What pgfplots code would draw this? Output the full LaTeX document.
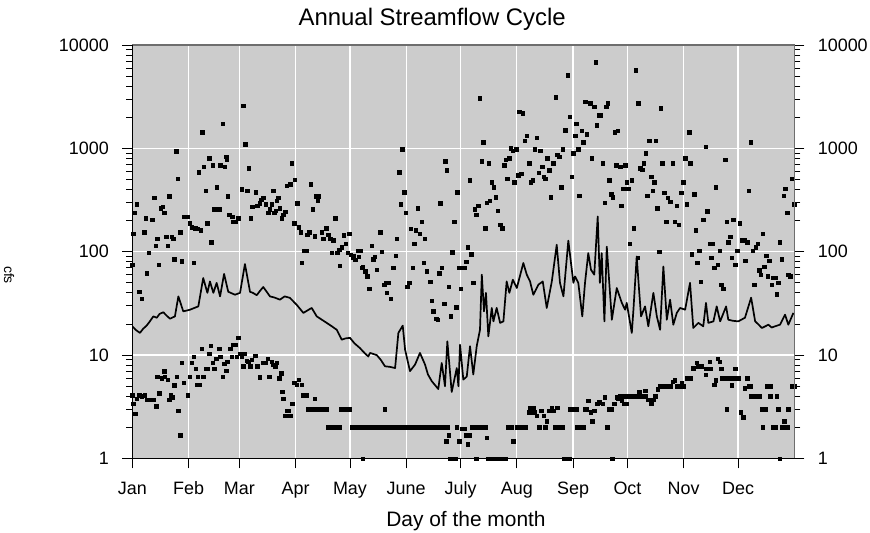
\documentclass[border=0pt]{standalone}
\usepackage{fontspec}
\setmainfont{Liberation Sans}
\usepackage{pgfplots}
\pgfplotsset{compat=1.18}
\definecolor{bgc}{RGB}{204,204,204}
\definecolor{framec}{RGB}{110,110,110}
\begin{document}
\begin{tikzpicture}[x=1bp,y=1bp]
\path[use as bounding box] (0,0) rectangle (870,533);
\begin{axis}[name=main,
  at={(132.3bp,74.5bp)}, anchor=south west,
  scale only axis, width=662bp, height=413.5bp,
  xmin=0, xmax=365, ymin=1, ymax=10000, ymode=log,
  ytick={1,10,100,1000,10000},
  yticklabels={1,10,100,1000,10000},
  minor ytick={2,3,4,5,6,7,8,9,20,30,40,50,60,70,80,90,200,300,400,500,600,700,800,900,2000,3000,4000,5000,6000,7000,8000,9000},
  tick align=outside,
  major tick length=10bp, minor tick length=6bp,
  tick style={black, line width=0.8bp},
  ticklabel style={font=\fontsize{18}{18}\selectfont},
  axis background/.style={fill=bgc},
  axis line style={draw=framec, line width=1.2bp},
  xtick={0,31,59,90,120,151,181,212,243,273,304,334},
  xticklabels={Jan,Feb,Mar,Apr,May,June,July,Aug,Sep,Oct,Nov,Dec},
  xtick pos=left, ytick pos=left,
  xmajorgrids, ymajorgrids,
  major grid style={white, line width=1.3bp},
  xticklabel style={anchor=base, yshift=-26.5bp},
  yticklabel style={anchor=east, xshift=-10bp},
  title={Annual Streamflow Cycle},
  title style={font=\fontsize{24}{24}\selectfont, at={(axis description cs:0.453,1)}, anchor=base, yshift=14bp},
  xlabel={Day of the month},
  xlabel style={font=\fontsize{21}{21}\selectfont, at={(axis description cs:0.504,0)}, anchor=base, yshift=-68bp},
]
% maximum daily flow
\addplot[only marks, mark=square*, mark size=1.7bp, mark options={draw=none, fill=black}] coordinates {
(0,75)(0.6,149)(1.1,237)(2.4,289)(3.7,41)(5.2,35)(6.5,155)(7.4,212)(7.9,62)(9.2,98)(11,204)(12,335)(12.9,114)(13.8,133)(14.7,75)(15.8,264)(16.8,274)(17.6,237)(18.6,139)(19.5,114)(20.4,345)(21.7,139)(22.6,133)(23.2,85)(24.3,940)(25,508)(26.3,155)(27.2,81)(28.7,219)(30.5,219)(31.8,189)(32.8,173)(34,78)(34.6,169)(36.1,166)(36.6,589)(37.7,161)(38.6,1435)(39.5,667)(40.5,388)(41.4,189)(42.3,804)(43.4,124)(44.3,688)(45.2,258)(46.5,422)(48,258)(48.4,688)(49.8,1740)(51,667)(51.7,834)(52.2,780)(52.6,345)(53.5,228)(55.1,219)(55.3,196)(57,196)(58.4,212)(60.3,403)(61.2,2590)(62.3,1097)(63.4,388)(64.2,644)(65.3,212)(66.2,274)(68,377)(68.9,280)(70.4,295)(71,318)(72.2,335)(73.7,289)(75,237)(75.9,258)(76.9,289)(77.6,388)(78.3,237)(79.1,249)(79.6,311)(80.5,335)(81.4,264)(82.4,212)(83.3,228)(84.2,245)(85.1,437)(87,451)(87.9,719)(89.2,189)(89.7,497)(91,295)(91.9,173)(92.9,155)(93.4,78)(94.7,102)(96.2,102)(96.5,146)(97.6,155)(98.5,451)(99.5,258)(100.4,141)(101.3,345)(102.2,311)(102.6,345)(104.4,155)(105.3,133)(106.8,169)(108.1,146)(109,133)(109.9,98)(110.8,129)(111.8,212)(113,98)(114,105)(114.5,73)(115.5,111)(116.7,144)(117.7,119)(118.8,98)(119.5,149)(120.4,94)(121.5,87)(122.2,91)(122.8,84)(124.6,102)(124.9,90)(125.6,102)(126.5,70)(127.1,72)(128.3,65)(129.6,58)(130.7,44)(132,114)(132.9,85)(133.8,90)(134.8,67)(136.6,155)(137.5,100)(138.8,48)(139.9,50.5)(140.3,40)(141.2,50.5)(142.5,35)(143.9,70)(145.2,91)(145.8,133)(147.1,589)(148,289)(148.9,982)(149.8,377)(150.9,237)(151.6,45.6)(152.7,50.5)(153.5,166)(154.6,70)(155.5,119)(156.4,161)(157.4,264)(158.3,149)(159.4,196)(160.5,78)(161.2,133)(162.3,65)(164.2,51)(165.1,33.6)(166,26.5)(167.5,22.5)(168.4,22)(169.1,62)(169.8,295)(170.6,70)(171.9,31.5)(172.6,752)(173.5,615)(174.6,45.6)(175.6,23.7)(176.4,99)(177.4,196)(178.5,29)(179.2,377)(180.3,70)(181.2,44)(183.1,70)(184,80.6)(184.9,111)(186,493)(186.8,95)(188,50)(188.8,258)(189.7,228)(190.6,278)(191.7,3055)(192.6,752)(193.5,1148)(194.5,169)(195.4,300)(196.5,719)(197.2,311)(198.3,471)(199.3,422)(200.2,337)(201.6,251)(202.9,182)(204,169)(205,688)(205.9,774)(206.8,511)(207.7,804)(208.7,1005)(209.8,946)(210.6,471)(211.6,982)(212.7,551)(213.4,2270)(214.5,571)(215.3,2190)(216.4,1181)(217.3,1320)(218.9,719)(219.8,471)(220.8,493)(222,982)(223,1271)(224.1,584)(225,946)(225.9,667)(226.8,531)(227.7,511)(228.8,804)(229.8,615)(230.7,337)(232.1,719)(233.5,3125)(234.3,871)(235.4,834)(236.4,422)(237.3,982)(238.6,1500)(240.2,5100)(241.2,2015)(242.1,531)(243,899)(244.1,1320)(244.8,1725)(245.9,982)(246.5,350)(247.8,1486)(248.7,1148)(249.6,2830)(250.6,1371)(252.4,2735)(253.3,804)(254.6,2535)(255.5,6800)(256.1,1675)(257,2095)(258.4,2095)(259.2,719)(260.3,300)(261.2,2535)(262.1,2735)(263,493)(264,361)(264.9,337)(266,1435)(266.9,688)(267.6,1486)(268.9,667)(269.6,278)(270.6,406)(271.7,688)(272.6,471)(273.5,406)(274.4,119)(275.5,493)(276.3,169)(277.6,5700)(278.7,87)(279,2735)(280.1,644)(281.2,620)(282,719)(282.9,899)(283.8,347)(284.9,1181)(286,531)(286.9,388)(287.7,471)(288.6,1181)(289.5,264)(290.6,100)(291.4,2445)(292.2,719)(293.3,374)(294.3,196)(295.2,335)(296.5,306)(298,719)(299.1,196)(300.2,278)(301.1,182)(302.6,374)(303.8,471)(304.8,804)(305.7,289)(307,1435)(307.7,719)(308.5,95)(309.7,361)(310.7,161)(311.5,78)(312.5,102)(313.4,51)(314.8,204)(316.3,1042)(317,247)(318.5,119)(319.1,87)(320,119)(320.9,70)(321.8,422)(322.8,75)(323.7,102)(324.6,48)(325.7,44)(326.8,774)(327.8,196)(328.6,124)(329.6,139)(330.5,87)(331.4,204)(332.3,75)(333.4,102)(334.9,189)(336,129)(337.3,129)(338,82)(339.1,124)(339.9,388)(341,1148)(341.9,102)(342.8,48)(343.8,111)(344.8,119)(345.7,66)(346.5,60)(347.6,149)(348.3,72)(349.4,91)(350.4,58)(351.2,82)(352.6,48)(353.1,56)(354.4,56)(355.3,39)(356.2,50)(357.1,124)(358.1,85)(359,347)(359.9,406)(361,237)(361.7,60)(362.7,58)(363.8,511)(364.9,289)
};
% minimum daily flow
\addplot[only marks, mark=square*, mark size=1.7bp, mark options={draw=none, fill=black}] coordinates {
(0,4.1)(0.6,3.4)(1.5,2.7)(2.4,3.8)(3.7,4.1)(5.2,4)(7,4.1)(7.9,3.7)(9.8,3.7)(11.6,3.7)(13.1,3.2)(13.8,6.2)(14.9,4.3)(16.2,6)(17.6,7)(18,6.2)(19.5,5.8)(20.4,3.7)(21.3,4.1)(22.3,3.9)(23.2,5.1)(24.5,6.2)(25.4,2.9)(26.3,1.68)(27.2,8.5)(28.5,5.4)(30.5,4.1)(31.8,6.2)(32.8,8.5)(34,9.6)(35,7.4)(35.5,5.15)(36.1,6.2)(36.9,5.15)(38.3,11.6)(39.1,6.2)(40.6,7.4)(41.6,7.4)(42.3,10.3)(43.2,12.4)(44.3,8.5)(45.2,7.4)(46.2,9.2)(48,11.6)(48.4,9.6)(49.8,6.2)(50.7,8.3)(51.7,7.1)(52.4,8.6)(53.9,11.6)(54.8,9.6)(55.7,12.6)(57,12.6)(57.6,9.7)(58.4,14.7)(59.4,10.3)(60.3,9.7)(61.2,7.8)(62.1,10.3)(63.1,8.85)(64,8.6)(64.9,7.8)(65.8,9.05)(67.7,9.9)(68.9,7.8)(70.4,6.1)(71.9,8.4)(73.2,8.4)(74.7,9.2)(75.5,6.2)(76.9,8.6)(77.7,8.1)(78.7,7.8)(79.6,8.4)(81.1,6)(82,6.7)(82.7,4.4)(83.3,3.8)(84.2,2.6)(85.1,2.9)(86,2.9)(87,2.6)(88.1,3.4)(89.2,5.4)(90.6,5.15)(91.9,5.8)(93.4,5.15)(94.3,4.1)(96.2,4.1)
(97,3)(98,3)(99,3)(100,3)(101,3)(102,3)(103,3)(104,3)(105,3)(106,3)(107,3)(100.4,3.8)
(108,2)(109,2)(110,2)(111,2)(112,2)(113,2)(114,2)
(115,3)(116,3)(117,3)(118,3)(119,3)(120,3)
(121,2)(122,2)(123,2)(124,2)(125,2)(126,2)(127,2)(128,2)(129,2)(130,2)(131,2)(132,2)(133,2)(134,2)(135,2)(136,2)(137,2)(138,2)(139,2)(140,2)(141,2)(142,2)(143,2)(144,2)(145,2)(146,2)(147,2)(148,2)(149,2)(150,2)(151,2)(152,2)(153,2)(154,2)(155,2)(156,2)(157,2)(158,2)(159,2)(160,2)(161,2)(162,2)(163,2)(164,2)(165,2)(166,2)(167,2)(168,2)(169,2)(170,2)(171,2)(172,2)(173,2)(174,2)
(127,1)(139.3,3)
(173,1.47)(174.3,1.68)(175,1)(176,1)(177,1)(178,1)(178.9,2)(180.3,1.47)(181.6,1.94)(183.4,1.94)(184,1.68)(184.9,1.37)(185.8,1.68)
(187,2)(188,2)(189,2)(190,2)(191,2)(192,2)(193,2)(194,2)(195,2)(189.5,1)(195.4,1.58)
(196,1)(197,1)(198,1)(199,1)(200,1)(201,1)(202,1)(203,1)(204,1)(205,1)(206,1)
(207,2)(208,2)(209,2)(210,1.47)
(212,2)(213,2)(214,2)(215,2)(216,2)(217,2)
(218.5,2.8)(219,3.1)(220,3.1)(220.5,2.8)(221,3.1)(222,2.8)(223,2.6)(224.3,2)(225.4,2.9)(226.8,2.6)(227.7,2)(228.5,2.3)(229.8,2.9)(231.3,3.1)(232.1,2.9)(233,2)(234,2)(234.3,3.1)(235,2)(236,2)(237,2)(238,1)(239,1)(240,1)(241,1)(241,3)(242,3)(243,3)(244,3)(245,3)(245,2)(246,2)(247,2)(248,2)(249,2)(249.5,3)(250.5,3)(251.4,3.6)(252.8,2.8)(253.6,2.3)(254.7,2.9)(256.4,3.4)(257.5,3.5)(259.2,3.4)(260.6,3.9)(261.9,2)(262.5,3)(263.5,3)(264.3,3)(264.7,1)(265.8,3.4)(267.1,3.9)(268,3.8)(269.9,3.6)(271.3,3.4)(272.2,3.4)
(269,4)(270,4)(271,4)(272,4)(273,4)(274,4)(275,4)(276,4)(277,4)(278,4)(279,4)
(279.4,4.4)(281,4)(282,4)(283,4)(282.7,4.5)(284.5,3.7)(285.5,3.7)(286.5,3.7)(287.3,3.7)(286,3.4)(288.2,4)(289.7,4.7)
(291,5)(292,5)(293,5)(294,5)(295,5)(296,5)(297,5)
(298,5.5)(298.9,5.7)(300,5)(301,5)(302,5)(303,5)(304,5)(303,5.4)(305.7,6)(307.5,6)(309.3,7.5)(311.2,8.4)(312,7.8)(313,7.8)(314,7.8)(316,7.4)(317,7.4)(318,7.4)(319,7.4)(316.3,6.5)(318.2,8.6)(320.9,5.2)(321.8,5.7)(322.8,9.2)(323.7,8.6)(324.6,7.4)
(325,6)(326,6)(327,6)(328,6)(329,6)(330,6)(331,6)(332,6)(333,6)(334,6)
(327.8,3)(330.5,5.1)(332.3,7.4)(335.5,2.8)(336.9,2.5)(337.8,4.8)(339.1,6)(340,5)(341,5)(341,4)(342,4)(343,4)(344,4)(345,4)(346,4)(347,3)(348,3)(349,3)(347.6,2)(350,5)(351,5)(352,5)(351.6,4)(353.4,2)(354.4,2)(355.3,4)(356.2,3)(357.1,1)(358,2)(359,2)(360,2)(361,2)(359.5,2.3)(361.7,3)(363.6,5)(364.5,5)(365,5)
};
% typical daily flow
\addplot[black, line width=1.7bp, line join=round, mark=none] coordinates {
(0,19)(2,17.5)(4.2,16.4)(6,18)(7.9,19.3)(9.5,21)(11.6,23.7)(13.5,23)(15,25)(17.1,26)(19,24)(20.8,22.5)(23.5,23.7)(25.4,37)(28.1,26.5)(30,27)(31.8,27.5)(34,28.5)(36.4,29.6)(39.1,55.7)(41.4,40)(42.8,51.6)(44.7,40)(46.5,50)(48.4,37)(50.6,61)(52.9,41)(56.6,38.4)(59.4,40)(62.1,76)(64.9,41)(66.5,40)(68.6,38)(70.5,42)(72.2,45.6)(75.9,37)(78.5,36)(81.4,34.4)(84,37)(86.9,35.8)(90.6,30.7)(92.5,28)(94.3,25.6)(96.5,27)(98.9,28.6)(101.7,23.7)(104.5,22)(107.2,20.5)(110,19)(112.7,17.6)(115.5,14.1)(117.5,14.5)(120,14.7)(122.5,13)(125.5,11.7)(128,10.5)(130.1,9.7)(131.1,10.5)(134.8,10)(137,9)(139.3,7.8)(142,7.7)(144.9,7.5)(146.7,16.4)(149.1,19.3)(150.4,11.3)(153.1,7)(155.9,8.1)(158.6,10.5)(161.4,8.1)(163,6.5)(165.1,5.6)(168.7,4.7)(170.6,8.4)(172.4,5)(173.7,13.6)(176.1,4.4)(178.9,7.5)(179.8,5)(180.7,12.6)(182.5,5.8)(184.4,6.2)(186.2,12.2)(188,6.5)(189.9,12.2)(191.7,17.6)(192.7,60)(193.9,26.5)(195,40)(196.3,15.2)(198.2,28.6)(199.1,21.2)(200.9,28.6)(202.8,20.5)(204.6,21.2)(206.4,51.6)(207.9,40)(209.8,53.6)(212,44.6)(215.6,77.8)(217.5,60)(219.3,51.6)(221.1,38.4)(223.9,48)(226.3,51.6)(228.5,28.6)(231.3,51.6)(234,117)(235.8,50)(237.7,37)(240.4,128)(243.2,50)(244.1,57.7)(245.9,50)(248.1,23.7)(249.6,50)(251.4,97)(252.9,67)(254.7,60)(256.6,219)(257.8,50)(258.8,97)(260.3,21.2)(261.6,112)(264.4,22)(267.1,44.6)(269.9,32)(271.7,27.5)(272.6,32)(275.4,16.4)(276.3,27.5)(278.1,90)(279.4,43)(280.5,23.7)(282.7,29.6)(284.5,19)(287.3,40)(289.2,23.7)(291,17.6)(292.8,72)(294.7,22)(296.5,34.4)(298.3,19.7)(300.2,25.6)(302,28.6)(304.8,27.5)(307.5,50)(309.3,18.3)(312.1,20.5)(314.8,19)(316.3,32)(317.6,20.5)(320.4,21.2)(322.2,29.6)(324.1,21.2)(327.4,29.6)(328.6,22)(331,21.5)(334.1,21.2)(337.8,23)(341.2,36)(343.4,21.2)(345,20)(347.1,18.3)(349,19)(350.7,19.7)(352.5,18.5)(354.4,19)(357.1,19.7)(359.9,24.6)(361.7,19.7)(364.5,25.6)
};
\end{axis}
\begin{axis}[
  at={(132.3bp,74.5bp)}, anchor=south west,
  scale only axis, width=662bp, height=413.5bp,
  xmin=0, xmax=365, ymin=1, ymax=10000, ymode=log,
  ytick={1,10,100,1000,10000},
  yticklabels={1,10,100,1000,10000},
  minor ytick={2,3,4,5,6,7,8,9,20,30,40,50,60,70,80,90,200,300,400,500,600,700,800,900,2000,3000,4000,5000,6000,7000,8000,9000},
  tick align=outside,
  major tick length=10bp, minor tick length=6bp,
  tick style={black, line width=0.8bp},
  ticklabel style={font=\fontsize{18}{18}\selectfont},
  hide x axis,
  axis y line*=right,
  axis line style={draw=framec, line width=1.2bp},
  yticklabel style={anchor=west, xshift=10bp},
]
\end{axis}
\draw[black, line width=1.3bp] (main.north west) -- (main.south west) -- (main.south east);
\node[rotate=-90, font=\fontsize{14}{14}\selectfont] at (9,258) {cfs};
\end{tikzpicture}
\end{document}
